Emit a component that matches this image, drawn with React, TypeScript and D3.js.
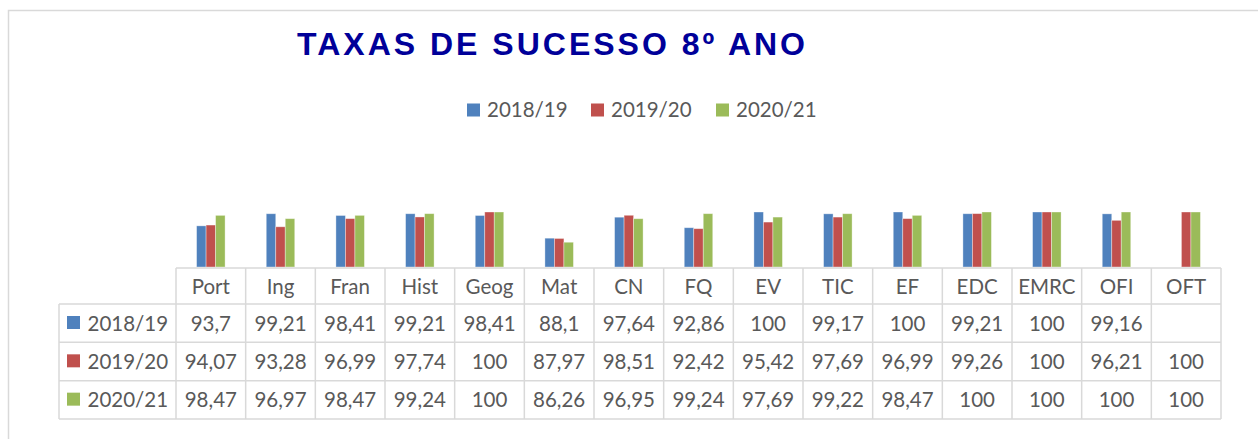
import React from "react";
import * as d3 from "d3";

const categories = ["Port", "Ing", "Fran", "Hist", "Geog", "Mat", "CN", "FQ", "EV", "TIC", "EF", "EDC", "EMRC", "OFI", "OFT"];
const seriesNames = ["2018/19", "2019/20", "2020/21"];
const s2018: (number | null)[] = [93.7, 99.21, 98.41, 99.21, 98.41, 88.1, 97.64, 92.86, 100, 99.17, 100, 99.21, 100, 99.16, null];
const s2019: (number | null)[] = [94.07, 93.28, 96.99, 97.74, 100, 87.97, 98.51, 92.42, 95.42, 97.69, 96.99, 99.26, 100, 96.21, 100];
const s2020: (number | null)[] = [98.47, 96.97, 98.47, 99.24, 100, 86.26, 96.95, 99.24, 97.69, 99.22, 98.47, 100, 100, 100, 100];
const seriesValues = [s2018, s2019, s2020];
const colors = ["#4F81BD", "#C0504D", "#9BBB59"];
const yDomain = [75, 100];

const fmt = (v: number | null) => (v == null ? "" : String(v).replace(".", ","));

export default function App() {
  const W = 1258, H = 439;
  const tableLeft = 176, tableRight = 1221, legendColLeft = 59;
  const headerTop = 268, headerBottom = 304, rowH = 38.33;
  const barBottom = 267;

  const x0 = d3.scaleBand<string>().domain(categories).range([tableLeft, tableRight]).padding(0);
  const groupW = 28.5;
  const x1 = d3.scaleBand<string>().domain(seriesNames).range([0, groupW]).padding(0);
  const y = d3.scaleLinear().domain(yDomain).range([barBottom, 212]);

  const font = "Lato, 'Open Sans', sans-serif";
  const textColor = "#595959";
  const grid = "#D9D9D9";

  const rowTops = seriesNames.map((_, i) => headerBottom + i * rowH);
  const tableBottom = headerBottom + seriesNames.length * rowH;
  const legendX = [467, 591, 716];

  return (
    <svg width={W} height={H} style={{ position: "absolute", left: 0, top: 0 }} fontFamily={font}>
      <rect x={0} y={0} width={W} height={H} fill="#fff" />
      {/* outer chart border */}
      <path d={`M8.5,${H} V10.5 H${W}`} fill="none" stroke={grid} strokeWidth={1.5} />

      <text x={297} y={55} fontFamily="'Liberation Sans', Arial, sans-serif" fontWeight="bold" fontSize={32}
        letterSpacing={3} fill="#000099">TAXAS DE SUCESSO 8º ANO</text>

      {seriesNames.map((s, i) => (
        <g key={s}>
          <rect x={legendX[i]} y={103.5} width={13} height={13} fill={colors[i]} />
          <text x={legendX[i] + 20} y={117} fontSize={20.5} fill={textColor}>{s}</text>
        </g>
      ))}

      {/* bars */}
      {categories.map((c, ci) => (
        <g key={c} transform={`translate(${(x0(c) as number) + (x0.bandwidth() - groupW) / 2},0)`}>
          {seriesNames.map((s, si) => {
            const v = seriesValues[si][ci];
            if (v == null) return null;
            return (
              <rect key={s} x={x1(s) as number} y={y(v)} width={x1.bandwidth()} height={barBottom - y(v)}
                fill={colors[si]} stroke="rgba(255,255,255,0.45)" strokeWidth={0.8} />
            );
          })}
        </g>
      ))}

      {/* table grid */}
      <g stroke={grid} strokeWidth={1.5}>
        <line x1={tableLeft} x2={tableRight} y1={headerTop} y2={headerTop} />
        {[headerBottom, ...rowTops.map((t) => t + rowH)].map((yy, i) => (
          <line key={i} x1={legendColLeft} x2={tableRight} y1={yy} y2={yy} />
        ))}
        <line x1={legendColLeft} x2={legendColLeft} y1={headerBottom} y2={tableBottom} />
        {[...categories.map((c) => x0(c) as number), tableRight].map((xx, i) => (
          <line key={i} x1={xx} x2={xx} y1={headerTop} y2={tableBottom} />
        ))}
      </g>

      {/* header labels */}
      {categories.map((c) => (
        <text key={c} x={(x0(c) as number) + x0.bandwidth() / 2} y={294} textAnchor="middle" fontSize={20.5} fill={textColor}>{c}</text>
      ))}

      {/* rows */}
      {seriesNames.map((s, si) => (
        <g key={s}>
          <rect x={67} y={rowTops[si] + 12} width={13} height={13} fill={colors[si]} />
          <text x={87.5} y={rowTops[si] + 26.5} fontSize={20.5} fill={textColor}>{s}</text>
          {categories.map((c, ci) => (
            <text key={c} x={(x0(c) as number) + x0.bandwidth() / 2} y={rowTops[si] + 26.5} textAnchor="middle"
              fontSize={20.5} fill={textColor}>{fmt(seriesValues[si][ci])}</text>
          ))}
        </g>
      ))}
    </svg>
  );
}
